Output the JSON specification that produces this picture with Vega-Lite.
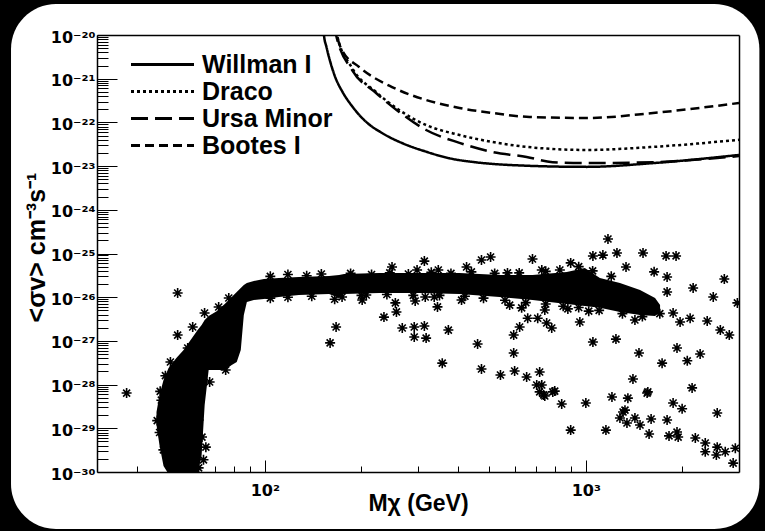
{
  "$schema": "https://vega.github.io/schema/vega-lite/v6.json",
  "width": 642,
  "height": 437,
  "autosize": {"type": "none"},
  "padding": {"left": 97, "top": 35, "right": 26, "bottom": 59},
  "background": "black",
  "datasets": {
    "panel": [{}],
    "band": [
      {"m": 45.97, "hi": 2.36e-29, "lo": 1.19e-29},
      {"m": 46.97, "hi": 5.8e-29, "lo": 4.1e-30},
      {"m": 48.35, "hi": 1.27e-28, "lo": 1.37e-30},
      {"m": 50.12, "hi": 2.4e-28, "lo": 9e-31},
      {"m": 53.09, "hi": 4.1e-28, "lo": 9e-31},
      {"m": 55.84, "hi": 6.2e-28, "lo": 9e-31},
      {"m": 58.72, "hi": 1.05e-27, "lo": 9e-31},
      {"m": 61.75, "hi": 1.77e-27, "lo": 9e-31},
      {"m": 63.55, "hi": 2.3e-27, "lo": 2.45e-30},
      {"m": 64.94, "hi": 3.0e-27, "lo": 3.4e-29},
      {"m": 66.83, "hi": 3.7e-27, "lo": 2.16e-28},
      {"m": 70.79, "hi": 4.8e-27, "lo": 2.16e-28},
      {"m": 74.99, "hi": 7.0e-27, "lo": 2.16e-28},
      {"m": 78.86, "hi": 1.01e-26, "lo": 2.8e-28},
      {"m": 81.75, "hi": 1.32e-26, "lo": 3.3e-28},
      {"m": 84.14, "hi": 1.63e-26, "lo": 6.2e-28},
      {"m": 86.0, "hi": 1.9e-26, "lo": 3.9e-27},
      {"m": 87.9, "hi": 2.11e-26, "lo": 7.8e-27},
      {"m": 92.4, "hi": 2.35e-26, "lo": 8.6e-27},
      {"m": 99.3, "hi": 2.61e-26, "lo": 9.1e-27},
      {"m": 110.6, "hi": 2.75e-26, "lo": 1.01e-26},
      {"m": 127.7, "hi": 2.9e-26, "lo": 1.12e-26},
      {"m": 158.5, "hi": 3.05e-26, "lo": 1.18e-26},
      {"m": 170.3, "hi": 3.22e-26, "lo": 9.6e-27},
      {"m": 176.6, "hi": 3.4e-26, "lo": 1.18e-26},
      {"m": 227.1, "hi": 3.58e-26, "lo": 1.25e-26},
      {"m": 302.8, "hi": 3.58e-26, "lo": 1.25e-26},
      {"m": 403.9, "hi": 3.58e-26, "lo": 1.18e-26},
      {"m": 538.5, "hi": 3.22e-26, "lo": 1.01e-26},
      {"m": 682.4, "hi": 3.22e-26, "lo": 8.6e-27},
      {"m": 872.3, "hi": 3.78e-26, "lo": 7.0e-27},
      {"m": 992.8, "hi": 4.66e-26, "lo": 6.3e-27},
      {"m": 1106, "hi": 2.75e-26, "lo": 5.7e-27},
      {"m": 1277, "hi": 2.11e-26, "lo": 4.6e-27},
      {"m": 1475, "hi": 1.46e-26, "lo": 3.9e-27},
      {"m": 1643, "hi": 9.6e-27, "lo": 3.7e-27},
      {"m": 1703, "hi": 6.6e-27, "lo": 4.6e-27}
    ],
    "points": [
      {"m": 37.1, "sv": 6.4e-29}, {"m": 53.5, "sv": 1.25e-26}, {"m": 53.5, "sv": 1.36e-27},
      {"m": 59.6, "sv": 2.08e-27}, {"m": 64.9, "sv": 4.35e-27}, {"m": 71.8, "sv": 5.97e-27},
      {"m": 77.2, "sv": 9.6e-27}, {"m": 57.5, "sv": 6.9e-28}, {"m": 50.8, "sv": 3.3e-28},
      {"m": 67.3, "sv": 1.15e-28}, {"m": 75.5, "sv": 2.16e-28}, {"m": 61.3, "sv": 5.8e-29},
      {"m": 65.5, "sv": 3.7e-30}, {"m": 166.7, "sv": 2.08e-27}, {"m": 159.7, "sv": 9.0e-28},
      {"m": 201, "sv": 8.6e-27}, {"m": 174, "sv": 1.01e-26}, {"m": 249, "sv": 4.9e-26},
      {"m": 314, "sv": 6.7e-26}, {"m": 298, "sv": 4.2e-26}, {"m": 347, "sv": 4.2e-26},
      {"m": 425, "sv": 4.9e-26}, {"m": 473, "sv": 7.1e-26}, {"m": 505, "sv": 8.3e-26},
      {"m": 570, "sv": 3.6e-26}, {"m": 207, "sv": 1.12e-26}, {"m": 255, "sv": 7.4e-27},
      {"m": 257, "sv": 4.6e-27}, {"m": 294, "sv": 8.2e-27}, {"m": 316, "sv": 1.01e-26},
      {"m": 337, "sv": 1.01e-26}, {"m": 345, "sv": 6.0e-27}, {"m": 410, "sv": 8.6e-27},
      {"m": 235, "sv": 3.5e-27}, {"m": 268, "sv": 1.97e-27}, {"m": 292, "sv": 2.08e-27},
      {"m": 314, "sv": 2.19e-27}, {"m": 292, "sv": 1.23e-27}, {"m": 318, "sv": 1.16e-27},
      {"m": 373, "sv": 1.77e-27}, {"m": 357, "sv": 3.1e-28}, {"m": 460, "sv": 8.5e-28},
      {"m": 473, "sv": 2.28e-28}, {"m": 542, "sv": 1.66e-28}, {"m": 1172, "sv": 2.15e-25},
      {"m": 682, "sv": 7.5e-26}, {"m": 897, "sv": 6.1e-26}, {"m": 729, "sv": 4.2e-26},
      {"m": 1052, "sv": 8.8e-26}, {"m": 1130, "sv": 9.2e-26}, {"m": 1250, "sv": 1.03e-25},
      {"m": 1334, "sv": 4.9e-26}, {"m": 1507, "sv": 1.03e-25}, {"m": 1778, "sv": 8.8e-26},
      {"m": 1910, "sv": 8.8e-26}, {"m": 1632, "sv": 3.8e-26}, {"m": 1791, "sv": 2.9e-26},
      {"m": 1791, "sv": 1.32e-26}, {"m": 2159, "sv": 1.63e-26}, {"m": 2700, "sv": 2.6e-26},
      {"m": 2494, "sv": 1.01e-26}, {"m": 2965, "sv": 7.4e-27}, {"m": 2113, "sv": 3.3e-27},
      {"m": 2388, "sv": 2.85e-27}, {"m": 2624, "sv": 1.77e-27}, {"m": 2798, "sv": 1.36e-27},
      {"m": 1870, "sv": 4.35e-27}, {"m": 1966, "sv": 2.7e-27}, {"m": 1422, "sv": 3.0e-27},
      {"m": 596, "sv": 1.36e-27}, {"m": 622, "sv": 2.08e-27}, {"m": 659, "sv": 3.3e-27},
      {"m": 708, "sv": 3.3e-27}, {"m": 755, "sv": 2.57e-27}, {"m": 783, "sv": 1.97e-27},
      {"m": 745, "sv": 5.1e-27}, {"m": 631, "sv": 5.7e-27}, {"m": 579, "sv": 6.6e-27},
      {"m": 958, "sv": 2.7e-27}, {"m": 1021, "sv": 4.8e-27}, {"m": 879, "sv": 5.4e-27},
      {"m": 1052, "sv": 9.4e-28}, {"m": 1241, "sv": 1.1e-27}, {"m": 596, "sv": 5.3e-28},
      {"m": 600, "sv": 2.05e-28}, {"m": 654, "sv": 1.49e-28}, {"m": 718, "sv": 1.94e-28},
      {"m": 729, "sv": 9.8e-29}, {"m": 789, "sv": 6.8e-29}, {"m": 739, "sv": 5.8e-29},
      {"m": 841, "sv": 3.6e-29}, {"m": 1000, "sv": 3.8e-29}, {"m": 1206, "sv": 5.2e-29},
      {"m": 1352, "sv": 4.9e-29}, {"m": 1324, "sv": 2.6e-29}, {"m": 1402, "sv": 1.34e-28},
      {"m": 1464, "sv": 5.3e-28}, {"m": 1552, "sv": 6.4e-29}, {"m": 1728, "sv": 3.1e-28},
      {"m": 1923, "sv": 6.9e-28}, {"m": 2070, "sv": 3.5e-28}, {"m": 2270, "sv": 5.0e-28},
      {"m": 2143, "sv": 8.4e-29}, {"m": 1870, "sv": 3.8e-29}, {"m": 1995, "sv": 2.8e-29},
      {"m": 2566, "sv": 2.24e-29}, {"m": 703, "sv": 9.8e-29}, {"m": 718, "sv": 6.8e-29},
      {"m": 745, "sv": 5.5e-29}, {"m": 800, "sv": 7.1e-29}, {"m": 897, "sv": 9.1e-30},
      {"m": 1155, "sv": 9.1e-30}, {"m": 1306, "sv": 2.36e-29}, {"m": 1277, "sv": 1.72e-29},
      {"m": 1343, "sv": 1.32e-29}, {"m": 1422, "sv": 1.72e-29}, {"m": 1475, "sv": 1.19e-29},
      {"m": 1597, "sv": 1.63e-29}, {"m": 1574, "sv": 7.4e-30}, {"m": 1560, "sv": 6.8e-29},
      {"m": 1791, "sv": 1.55e-29}, {"m": 1816, "sv": 6.7e-30}, {"m": 1923, "sv": 8.2e-30},
      {"m": 1939, "sv": 6.3e-30}, {"m": 2193, "sv": 6.0e-30}, {"m": 2355, "sv": 4.6e-30},
      {"m": 2566, "sv": 3.7e-30}, {"m": 2355, "sv": 2.9e-30}, {"m": 2718, "sv": 2.9e-30},
      {"m": 2922, "sv": 3.5e-30}, {"m": 2550, "sv": 2.45e-30}, {"m": 2877, "sv": 1.6e-30},
      {"m": 49.1, "sv": 7.8e-30}, {"m": 48.3, "sv": 3.2e-30}, {"m": 47.6, "sv": 4.4e-29},
      {"m": 52.0, "sv": 1.1e-30}, {"m": 62.2, "sv": 1.24e-30}, {"m": 64.4, "sv": 1.9e-30},
      {"m": 62.2, "sv": 1.55e-29}, {"m": 63.7, "sv": 6.3e-30}, {"m": 60.9, "sv": 5.2e-29},
      {"m": 46.2, "sv": 1.5e-29}, {"m": 47.0, "sv": 8e-30}, {"m": 47.2, "sv": 7e-29},
      {"m": 49.0, "sv": 1.6e-28},
      {"m": 104, "sv": 3.0e-26}, {"m": 118, "sv": 3.3e-26}, {"m": 135, "sv": 3.1e-26},
      {"m": 150, "sv": 3.4e-26}, {"m": 185, "sv": 3.5e-26}, {"m": 215, "sv": 3.3e-26},
      {"m": 245, "sv": 3.6e-26}, {"m": 280, "sv": 3.4e-26}, {"m": 330, "sv": 3.7e-26},
      {"m": 380, "sv": 3.5e-26}, {"m": 440, "sv": 3.8e-26}, {"m": 520, "sv": 3.5e-26},
      {"m": 620, "sv": 3.6e-26}, {"m": 750, "sv": 3.9e-26}, {"m": 830, "sv": 4.2e-26},
      {"m": 950, "sv": 5.0e-26}, {"m": 1050, "sv": 4.0e-26}, {"m": 1200, "sv": 3.0e-26},
      {"m": 104, "sv": 9.5e-27}, {"m": 118, "sv": 1.0e-26}, {"m": 140, "sv": 1.05e-26},
      {"m": 165, "sv": 9.0e-27}, {"m": 200, "sv": 1.1e-26}, {"m": 240, "sv": 1.15e-26},
      {"m": 290, "sv": 1.1e-26}, {"m": 350, "sv": 1.1e-26}, {"m": 420, "sv": 1.05e-26},
      {"m": 480, "sv": 9.5e-27}, {"m": 560, "sv": 8.5e-27}, {"m": 650, "sv": 7.5e-27},
      {"m": 750, "sv": 7.0e-27}, {"m": 850, "sv": 6.2e-27}, {"m": 950, "sv": 5.8e-27},
      {"m": 1100, "sv": 5.0e-27}, {"m": 1300, "sv": 4.2e-27}, {"m": 1500, "sv": 3.6e-27},
      {"m": 1700, "sv": 4.2e-27}
    ],
    "curves": [
      {"galaxy": "Willman I", "m": 152.0, "sv": 2.0e-20},
      {"galaxy": "Willman I", "m": 152.8, "sv": 1.0e-20},
      {"galaxy": "Willman I", "m": 155.5, "sv": 5.4e-21},
      {"galaxy": "Willman I", "m": 159.3, "sv": 2.68e-21},
      {"galaxy": "Willman I", "m": 165.5, "sv": 1.11e-21},
      {"galaxy": "Willman I", "m": 174.4, "sv": 5.04e-22},
      {"galaxy": "Willman I", "m": 187.5, "sv": 2.29e-22},
      {"galaxy": "Willman I", "m": 206.4, "sv": 1.04e-22},
      {"galaxy": "Willman I", "m": 232.6, "sv": 5.63e-23},
      {"galaxy": "Willman I", "m": 268.6, "sv": 3.33e-23},
      {"galaxy": "Willman I", "m": 317.8, "sv": 2.14e-23},
      {"galaxy": "Willman I", "m": 375.8, "sv": 1.51e-23},
      {"galaxy": "Willman I", "m": 455.3, "sv": 1.22e-23},
      {"galaxy": "Willman I", "m": 578.8, "sv": 1.06e-23},
      {"galaxy": "Willman I", "m": 1007, "sv": 9.6e-24},
      {"galaxy": "Willman I", "m": 1619, "sv": 1.17e-23},
      {"galaxy": "Willman I", "m": 3000, "sv": 1.8e-23},
      {"galaxy": "Draco", "m": 166.5, "sv": 1.7e-20},
      {"galaxy": "Draco", "m": 167.9, "sv": 1.0e-20},
      {"galaxy": "Draco", "m": 187, "sv": 1.76e-21},
      {"galaxy": "Draco", "m": 222, "sv": 4.96e-22},
      {"galaxy": "Draco", "m": 262, "sv": 1.92e-22},
      {"galaxy": "Draco", "m": 318, "sv": 8.7e-23},
      {"galaxy": "Draco", "m": 404, "sv": 5.15e-23},
      {"galaxy": "Draco", "m": 512, "sv": 3.56e-23},
      {"galaxy": "Draco", "m": 654, "sv": 2.75e-23},
      {"galaxy": "Draco", "m": 1007, "sv": 2.34e-23},
      {"galaxy": "Draco", "m": 1619, "sv": 2.75e-23},
      {"galaxy": "Draco", "m": 3000, "sv": 4.0e-23},
      {"galaxy": "Ursa Minor", "m": 165.5, "sv": 1.7e-20},
      {"galaxy": "Ursa Minor", "m": 166.7, "sv": 1.0e-20},
      {"galaxy": "Ursa Minor", "m": 187, "sv": 1.58e-21},
      {"galaxy": "Ursa Minor", "m": 222, "sv": 4.7e-22},
      {"galaxy": "Ursa Minor", "m": 262, "sv": 1.74e-22},
      {"galaxy": "Ursa Minor", "m": 318, "sv": 6.7e-23},
      {"galaxy": "Ursa Minor", "m": 404, "sv": 3.4e-23},
      {"galaxy": "Ursa Minor", "m": 512, "sv": 2.1e-23},
      {"galaxy": "Ursa Minor", "m": 654, "sv": 1.62e-23},
      {"galaxy": "Ursa Minor", "m": 788, "sv": 1.23e-23},
      {"galaxy": "Ursa Minor", "m": 1007, "sv": 1.17e-23},
      {"galaxy": "Ursa Minor", "m": 1619, "sv": 1.23e-23},
      {"galaxy": "Ursa Minor", "m": 3000, "sv": 1.7e-23},
      {"galaxy": "Bootes I", "m": 166.5, "sv": 1.7e-20},
      {"galaxy": "Bootes I", "m": 167.9, "sv": 1.0e-20},
      {"galaxy": "Bootes I", "m": 174, "sv": 4.5e-21},
      {"galaxy": "Bootes I", "m": 196.6, "sv": 1.85e-21},
      {"galaxy": "Bootes I", "m": 249, "sv": 6.45e-22},
      {"galaxy": "Bootes I", "m": 318, "sv": 3.26e-22},
      {"galaxy": "Bootes I", "m": 404, "sv": 2.14e-22},
      {"galaxy": "Bootes I", "m": 512, "sv": 1.64e-22},
      {"galaxy": "Bootes I", "m": 668, "sv": 1.33e-22},
      {"galaxy": "Bootes I", "m": 1007, "sv": 1.26e-22},
      {"galaxy": "Bootes I", "m": 1619, "sv": 1.64e-22},
      {"galaxy": "Bootes I", "m": 3000, "sv": 2.78e-22}
    ]
  },
  "layer": [
    {
      "data": {"name": "panel"},
      "mark": {"type": "rect", "fill": "white", "cornerRadius": 45, "clip": false},
      "encoding": {
        "x": {"datum": 16.19, "type": "quantitative", "axis": {"orient": "top", "labels": false, "ticks": false, "title": null, "domain": true, "zindex": 1}},
        "x2": {"datum": 3472},
        "y": {"datum": 5.12e-20, "type": "quantitative", "axis": {"orient": "right", "labels": false, "ticks": false, "title": null, "domain": true, "zindex": 1}},
        "y2": {"datum": 4.96e-32}
      }
    },
    {
      "data": {"name": "band"},
      "mark": {"type": "area", "color": "black", "opacity": 1, "clip": true},
      "encoding": {
        "x": {"field": "m", "type": "quantitative", "axis": null},
        "y": {"field": "hi", "type": "quantitative", "axis": null},
        "y2": {"field": "lo"}
      }
    },
    {
      "data": {"name": "points"},
      "mark": {"type": "point", "shape": "M-1,0L1,0M0,-1L0,1M-0.7,-0.7L0.7,0.7M-0.7,0.7L0.7,-0.7", "size": 100, "filled": false, "color": "black", "strokeWidth": 1.6, "opacity": 1, "clip": true},
      "encoding": {
        "x": {
          "field": "m", "type": "quantitative",
          "scale": {"type": "log", "domain": [30, 3000], "nice": false},
          "axis": {
            "orient": "bottom",
            "zindex": 1,
            "values": [40, 50, 60, 70, 80, 90, 100, 200, 300, 400, 500, 600, 700, 800, 900, 1000, 2000],
            "tickSize": {"condition": {"test": "datum.value == 100 || datum.value == 1000", "value": -12}, "value": -6},
            "labelExpr": "datum.value == 100 ? '10²' : (datum.value == 1000 ? '10³' : '')",
            "labelPadding": 22,
            "labelFlush": false,
            "labelOverlap": false,
            "title": "Mχ (GeV)",
            "titleFontSize": 23,
            "titleBaseline": "alphabetic",
            "titleY": 38
          }
        },
        "y": {
          "field": "sv", "type": "quantitative",
          "scale": {"type": "log", "domain": [1e-30, 1e-20], "nice": false},
          "axis": {
            "orient": "left",
            "zindex": 1,
            "values": [1e-30, 2e-30, 3e-30, 4e-30, 5e-30, 6e-30, 7e-30, 8e-30, 9e-30,
                       1e-29, 2e-29, 3e-29, 4e-29, 5e-29, 6e-29, 7e-29, 8e-29, 9e-29,
                       1e-28, 2e-28, 3e-28, 4e-28, 5e-28, 6e-28, 7e-28, 8e-28, 9e-28,
                       1e-27, 2e-27, 3e-27, 4e-27, 5e-27, 6e-27, 7e-27, 8e-27, 9e-27,
                       1e-26, 2e-26, 3e-26, 4e-26, 5e-26, 6e-26, 7e-26, 8e-26, 9e-26,
                       1e-25, 2e-25, 3e-25, 4e-25, 5e-25, 6e-25, 7e-25, 8e-25, 9e-25,
                       1e-24, 2e-24, 3e-24, 4e-24, 5e-24, 6e-24, 7e-24, 8e-24, 9e-24,
                       1e-23, 2e-23, 3e-23, 4e-23, 5e-23, 6e-23, 7e-23, 8e-23, 9e-23,
                       1e-22, 2e-22, 3e-22, 4e-22, 5e-22, 6e-22, 7e-22, 8e-22, 9e-22,
                       1e-21, 2e-21, 3e-21, 4e-21, 5e-21, 6e-21, 7e-21, 8e-21, 9e-21,
                       1e-20],
            "tickSize": {"condition": {"test": "abs(log(datum.value)/LN10 - round(log(datum.value)/LN10)) < 0.01", "value": -20}, "value": -11},
            "labelExpr": "abs(log(datum.value)/LN10 - round(log(datum.value)/LN10)) < 0.01 ? '10⁻' + ['²⁰','²¹','²²','²³','²⁴','²⁵','²⁶','²⁷','²⁸','²⁹','³⁰'][round(-log(datum.value)/LN10) - 20] : ''",
            "labelPadding": 22,
            "labelOffset": 2,
            "labelFlush": false,
            "labelOverlap": false,
            "title": "<σv> cm⁻³s⁻¹",
            "titleFontSize": 25,
            "titleX": -61,
            "titleY": 212,
            "titleAlign": "center",
            "titleBaseline": "middle",
            "titleAngle": -90
          }
        }
      }
    },
    {
      "data": {"name": "curves"},
      "mark": {"type": "line", "color": "black", "strokeWidth": 2.5, "clip": true, "interpolate": "monotone"},
      "encoding": {
        "x": {"field": "m", "type": "quantitative", "axis": null},
        "y": {"field": "sv", "type": "quantitative", "axis": null},
        "strokeDash": {
          "field": "galaxy", "type": "nominal",
          "scale": {"domain": ["Willman I", "Draco", "Ursa Minor", "Bootes I"], "range": [[1, 0], [3, 3], [17, 7], [9, 5]]},
          "legend": {"orient": "none", "legendX": 53, "legendY": 17, "title": null}
        }
      }
    }
  ],
  "config": {
    "view": {"stroke": null},
    "axis": {
      "grid": false,
      "domainColor": "black",
      "domainWidth": 1.5,
      "tickColor": "black",
      "tickWidth": 1,
      "labelFont": "DejaVu Sans",
      "labelFontWeight": "bold",
      "labelFontSize": 16,
      "labelColor": "black",
      "titleFont": "Liberation Sans",
      "titleFontWeight": "bold",
      "titleColor": "black"
    },
    "legend": {
      "symbolType": "M-3.15,0L3.15,0",
      "symbolSize": 400,
      "symbolStrokeWidth": 3,
      "symbolStrokeColor": "black",
      "labelFont": "Liberation Sans",
      "labelFontWeight": "bold",
      "labelFontSize": 25,
      "labelColor": "black",
      "labelOffset": 27,
      "labelLimit": 400,
      "rowPadding": 1,
      "padding": 0
    }
  }
}
